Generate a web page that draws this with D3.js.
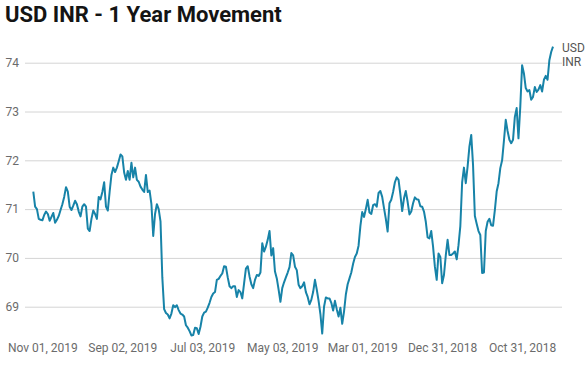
<!DOCTYPE html>
<html>
<head>
<meta charset="utf-8">
<script src="https://cdn.jsdelivr.net/npm/d3@7"></script>
<style>
  body { margin: 0; background: #fff; font-family: Roboto, "Noto Sans", sans-serif; }
  .grid line { stroke: #d4d4d4; }
  .grid .domain { display: none; }
  .tick text { fill: #6b6b6b; font-size: 12px; font-family: Roboto, sans-serif; }
</style>
</head>
<body>
<div id="chart"></div>
<script>
// trading sessions, newest first (Nov 08, 2019 back to Oct 08, 2018)
var usdInr = [
  71.36, 71.05, 71.0, 70.8, 70.78, 70.77, 70.88, 70.95, 70.9, 70.76,
  70.84, 70.92, 70.72, 70.78, 70.86, 70.98, 71.1, 71.25, 71.45, 71.36,
  71.05, 70.98, 71.07, 71.17, 71.1, 70.95, 70.85, 71.05, 71.1, 71.05,
  70.6, 70.55, 70.8, 70.97, 70.9, 70.8, 71.25, 71.2, 71.35, 71.55,
  71.05, 70.97, 71.35, 71.7, 71.85, 71.76, 71.85, 71.98, 72.12, 72.08,
  71.75, 71.6, 71.78, 71.6, 71.95, 71.65, 71.85, 71.6, 71.56, 71.46,
  71.4, 71.35, 71.7, 71.35, 71.38, 71.1, 70.45, 70.9, 71.1, 71.0,
  70.75, 69.6, 68.95, 68.87, 68.84, 68.76, 68.86, 69.03, 68.99, 69.03,
  68.93, 68.86, 68.84, 68.8, 68.62, 68.57, 68.5, 68.41, 68.42, 68.57,
  68.56, 68.44, 68.59, 68.8, 68.88, 68.9, 68.98, 69.08, 69.2, 69.27,
  69.3, 69.55, 69.57, 69.63, 69.68, 69.83, 69.82, 69.6, 69.42, 69.38,
  69.42, 69.42, 69.2, 69.34, 69.3, 69.17, 69.48, 69.78, 69.83, 69.62,
  69.46, 69.38, 69.55, 69.65, 69.63, 69.7, 70.3, 70.13, 70.23, 70.37,
  70.55, 70.05, 70.2, 69.72, 69.58, 69.35, 69.1, 69.38, 69.5, 69.6,
  69.7, 69.81, 70.1, 70.05, 69.82, 69.75, 69.45, 69.38, 69.42, 69.5,
  69.3, 69.2, 69.05, 69.14, 69.3, 69.55, 69.35, 69.12, 68.85, 68.45,
  69.0, 69.19, 69.17, 69.17, 69.08, 68.92, 69.12, 68.95, 68.8, 68.98,
  68.65, 68.9, 69.25, 69.46, 69.58, 69.7, 69.88, 70.02, 70.09, 70.25,
  70.65, 70.94, 70.84, 71.0, 71.19, 70.93, 70.9, 71.08, 71.1, 71.05,
  71.33, 71.37, 71.25, 71.02, 70.8, 70.54, 71.12, 71.19, 71.35, 71.55,
  71.65, 71.6, 71.3, 70.96, 71.22, 71.37, 71.15, 70.89, 70.95, 71.12,
  71.24, 71.2, 71.19, 71.06, 71.05, 70.95, 70.74, 70.42, 70.4, 70.55,
  70.23, 69.82, 69.55, 70.09, 70.02, 69.48, 69.65, 70.05, 70.37, 70.06,
  70.06, 70.09, 70.13, 69.97, 70.26, 70.65, 71.55, 71.85, 71.53, 71.87,
  72.28, 72.52, 71.9, 70.86, 70.7, 70.55, 70.47, 69.69, 69.7, 70.55,
  70.74, 70.8, 70.67, 70.66, 70.98, 71.36, 71.53, 71.84, 72.0, 72.4,
  72.83, 72.6, 72.42, 72.35, 72.42, 72.89, 73.07, 72.45, 73.1, 73.95,
  73.78, 73.48, 73.41, 73.44, 73.24, 73.3, 73.5, 73.4, 73.45, 73.54,
  73.41, 73.65, 73.73, 73.65, 74.05, 74.22, 74.33
];

var xTickIndex = [5, 49, 93, 137, 181, 225, 269];
var xTickLabels = ["Nov 01, 2019", "Sep 02, 2019", "Jul 03, 2019", "May 03, 2019",
                   "Mar 01, 2019", "Dec 31, 2018", "Oct 31, 2018"];
var yTicks = [69, 70, 71, 72, 73, 74];
var seriesName = ["USD", "INR"];

var width = 587, height = 371;
var plot = { left: 25, right: 562 };

var svg = d3.select("#chart")
  .append("svg")
  .attr("width", width)
  .attr("height", height);

var x = d3.scaleLinear()
  .domain([0, usdInr.length - 1])
  .range([33.3, 553]);

var y = d3.scaleLinear()
  .domain([69, 74])
  .range([306.7, 62.7]);

svg.append("text")
  .attr("x", 5)
  .attr("y", 22)
  .style("font-size", "22px")
  .style("font-weight", "bold")
  .style("fill", "#141414")
  .text("USD INR - 1 Year Movement");

// gridlines + y labels
svg.append("g")
  .attr("class", "grid")
  .attr("transform", "translate(" + plot.left + ",0)")
  .call(d3.axisLeft(y)
    .tickValues(yTicks)
    .tickSize(-(plot.right - plot.left))
    .tickPadding(6)
    .tickFormat(d3.format("d")));

svg.select(".grid").selectAll(".tick text").attr("x", -6);

var xAxis = svg.append("g")
  .attr("class", "grid")
  .attr("transform", "translate(0,336)")
  .call(d3.axisBottom(x)
    .tickValues(xTickIndex)
    .tickSize(0)
    .tickPadding(7.5)
    .tickFormat(function (d, i) { return xTickLabels[i]; }));

xAxis.selectAll(".tick line").remove();

var line = d3.line()
  .x(function (d, i) { return x(i); })
  .y(function (d) { return y(d); });

svg.append("path")
  .datum(usdInr)
  .attr("fill", "none")
  .attr("stroke", "#1783a8")
  .attr("stroke-width", 2)
  .attr("stroke-linejoin", "round")
  .attr("d", line);

var last = usdInr[usdInr.length - 1];
svg.append("text")
  .attr("x", 562)
  .attr("y", y(last) + 5)
  .style("font-size", "12px")
  .style("fill", "#555")
  .selectAll("tspan")
  .data(seriesName)
  .enter()
  .append("tspan")
  .attr("x", 562)
  .attr("dy", function (d, i) { return i === 0 ? 0 : 14.5; })
  .text(function (d) { return d; });
</script>
</body>
</html>
